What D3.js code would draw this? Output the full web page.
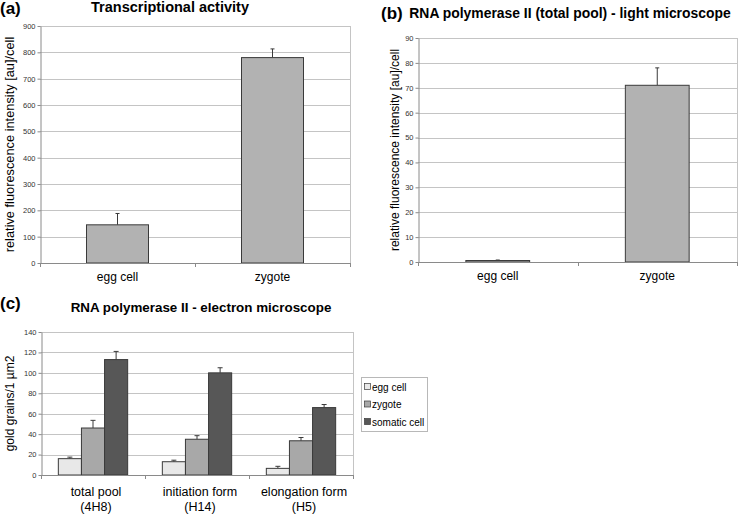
<!DOCTYPE html>
<html>
<head>
<meta charset="utf-8">
<script src="https://cdn.jsdelivr.net/npm/d3@7"></script>
<style>
  html, body { margin: 0; padding: 0; background: #fff; }
  svg text { font-family: Arial, "Liberation Sans", sans-serif; }
</style>
</head>
<body>
<svg id="chart" width="738" height="514"></svg>
<script>
// ---- data ----
const catsAB = ["egg cell", "zygote"];
const valuesA = [145, 780];
const errorsA = [43, 33];
const ticksA = [0, 100, 200, 300, 400, 500, 600, 700, 800, 900];

const valuesB = [0.6, 71];
const errorsB = [0.2, 7];
const ticksB = [0, 10, 20, 30, 40, 50, 60, 70, 80, 90];

const groupsC = ["total pool (4H8)", "initiation form (H14)", "elongation form (H5)"];
const groupLine1C = ["total pool", "initiation form", "elongation form"];
const groupLine2C = ["(4H8)", "(H14)", "(H5)"];
const seriesC = ["egg cell", "zygote", "somatic cell"];
const eggCellC = [16, 13, 6.5];
const eggCellErrC = [1.5, 1.5, 2];
const zygoteC = [46, 35, 33.5];
const zygoteErrC = [7.5, 3.5, 3.2];
const somaticC = [113, 100, 66];
const somaticErrC = [8, 5, 3];
const ticksC = [0, 20, 40, 60, 80, 100, 120, 140];

// ---- styles ----
const gridColor = "#c4c4c4";
const axisColor = "#8a8a8a";
const barStroke = "#3a3a3a";
const singleFill = "#b2b2b2";
const seriesFill = { "egg cell": "#e8e8e8", "zygote": "#a8a8a8", "somatic cell": "#575757" };

const svg = d3.select("#chart");

function frame(g, x0, x1, y, ticks, fmtSize) {
  g.selectAll("line.grid").data(ticks.filter(t => t !== 0)).enter().append("line")
    .attr("x1", x0).attr("x2", x1)
    .attr("y1", d => Math.round(y(d)) + 0.5).attr("y2", d => Math.round(y(d)) + 0.5)
    .attr("stroke", gridColor).attr("stroke-width", 1);
  g.append("line").attr("x1", x1 + 0.5).attr("x2", x1 + 0.5)
    .attr("y1", y(ticks[ticks.length - 1])).attr("y2", y(0))
    .attr("stroke", gridColor);
  const ax = d3.axisLeft(y).tickValues(ticks).tickSize(3).tickSizeOuter(0).tickPadding(2);
  const ag = g.append("g").attr("transform", `translate(${Math.round(x0) + 0.5},0)`).call(ax);
  ag.select(".domain").attr("stroke", axisColor);
  ag.selectAll(".tick line").attr("stroke", axisColor);
  ag.selectAll(".tick text").attr("fill", "#333").style("font-size", fmtSize + "px")
    .style("font-family", "Arial, 'Liberation Sans', sans-serif");
}

function bottomAxis(g, x, y0) {
  const r = x.range();
  g.append("line").attr("x1", r[0]).attr("x2", r[1])
    .attr("y1", Math.round(y0) + 0.5).attr("y2", Math.round(y0) + 0.5)
    .attr("stroke", axisColor);
  const bounds = x.domain().map(d => x(d)).concat([r[1]]);
  g.selectAll("line.btick").data(bounds).enter().append("line")
    .attr("x1", d => Math.round(d) + 0.5).attr("x2", d => Math.round(d) + 0.5)
    .attr("y1", y0).attr("y2", y0 + 4).attr("stroke", axisColor);
}

function errorBar(g, cx, yTop, yErr, cap) {
  g.append("line").attr("x1", cx).attr("x2", cx).attr("y1", yTop).attr("y2", yErr)
    .attr("stroke", barStroke).attr("stroke-width", 1);
  g.append("line").attr("x1", cx - cap).attr("x2", cx + cap).attr("y1", yErr).attr("y2", yErr)
    .attr("stroke", barStroke).attr("stroke-width", 1);
}

function singlePanel(opts) {
  const g = svg.append("g");
  const x = d3.scaleBand().domain(catsAB).range([opts.x0, opts.x1]).padding(0);
  const y = d3.scaleLinear().domain([0, opts.max]).range([opts.y0, opts.y1]);
  frame(g, opts.x0, opts.x1, y, opts.ticks, 7.5);
  const bw = x.bandwidth() / 2.5;
  catsAB.forEach((c, i) => {
    const cx = x(c) + x.bandwidth() / 2;
    const top = y(opts.values[i]);
    errorBar(g, cx, top, y(opts.values[i] + opts.errors[i]), 2);
    g.append("rect").attr("x", cx - bw / 2).attr("y", top)
      .attr("width", bw).attr("height", Math.max(0.5, y(0) - top))
      .attr("fill", singleFill).attr("stroke", barStroke).attr("stroke-width", 1);
  });
  bottomAxis(g, x, opts.y0);
  g.selectAll("text.cat").data(catsAB).enter().append("text")
    .attr("x", d => x(d) + x.bandwidth() / 2).attr("y", opts.y0 + 18)
    .attr("text-anchor", "middle").style("font-size", "12px").text(d => d);
  g.append("text")
    .attr("transform", `translate(${opts.ylabX},${(opts.y0 + opts.y1) / 2}) rotate(-90)`)
    .attr("text-anchor", "middle").style("font-size", opts.ylabSize + "px")
    .text("relative fluorescence intensity [au]/cell");
  g.append("text").attr("x", opts.titleX).attr("y", opts.titleY)
    .attr("text-anchor", "middle").style("font-size", opts.titleSize + "px").style("font-weight", "bold")
    .text(opts.title);
  g.append("text").attr("x", opts.tagX).attr("y", opts.tagY)
    .style("font-size", "17px").style("font-weight", "bold").text(opts.tag);
}

singlePanel({
  x0: 40, x1: 350, y0: 263, y1: 26, max: 900, ticks: ticksA,
  values: valuesA, errors: errorsA,
  ylabX: 14, ylabSize: 12.8,
  title: "Transcriptional activity", titleX: 170, titleY: 12, titleSize: 14.5,
  tag: "(a)", tagX: 0, tagY: 14
});

singlePanel({
  x0: 418, x1: 737, y0: 262, y1: 38, max: 90, ticks: ticksB,
  values: valuesB, errors: errorsB,
  ylabX: 399, ylabSize: 12,
  title: "RNA polymerase II (total pool) - light microscope", titleX: 570, titleY: 18, titleSize: 13.9,
  tag: "(b)", tagX: 381, tagY: 19
});

// ---- panel (c) ----
(function () {
  const g = svg.append("g");
  const x0 = 41, x1 = 353, yb = 475, yt = 332;
  const x = d3.scaleBand().domain(groupsC).range([x0, x1]).padding(0);
  const y = d3.scaleLinear().domain([0, 140]).range([yb, yt]);
  frame(g, x0, x1, y, ticksC, 7.5);
  const bw = x.bandwidth() / 4.5;
  const xs = d3.scaleBand().domain(seriesC)
    .range([x.bandwidth() / 2 - 1.5 * bw, x.bandwidth() / 2 + 1.5 * bw]).padding(0);
  const vals = { "egg cell": eggCellC, "zygote": zygoteC, "somatic cell": somaticC };
  const errs = { "egg cell": eggCellErrC, "zygote": zygoteErrC, "somatic cell": somaticErrC };
  groupsC.forEach((grp, gi) => {
    seriesC.forEach(s => {
      const bx = x(grp) + xs(s);
      const top = y(vals[s][gi]);
      errorBar(g, bx + bw / 2, top, y(vals[s][gi] + errs[s][gi]), 2.5);
      g.append("rect").attr("x", bx).attr("y", top).attr("width", bw).attr("height", y(0) - top)
        .attr("fill", seriesFill[s]).attr("stroke", barStroke).attr("stroke-width", 1);
    });
  });
  bottomAxis(g, x, yb);
  groupsC.forEach((grp, gi) => {
    const cx = x(grp) + x.bandwidth() / 2;
    g.append("text").attr("x", cx + 3).attr("y", yb + 21).attr("text-anchor", "middle")
      .style("font-size", "12.5px").text(groupLine1C[gi]);
    g.append("text").attr("x", cx + 3).attr("y", yb + 36).attr("text-anchor", "middle")
      .style("font-size", "12.5px").text(groupLine2C[gi]);
  });
  g.append("text").attr("transform", `translate(14,${(yb + yt) / 2}) rotate(-90)`)
    .attr("text-anchor", "middle").style("font-size", "12px").text("gold grains/1 µm2");
  g.append("text").attr("x", 201).attr("y", 312).attr("text-anchor", "middle")
    .style("font-size", "13.4px").style("font-weight", "bold")
    .text("RNA polymerase II - electron microscope");
  g.append("text").attr("x", 0).attr("y", 309)
    .style("font-size", "17px").style("font-weight", "bold").text("(c)");

  const lg = g.append("g").attr("transform", "translate(361,377)");
  lg.append("rect").attr("x", 0.5).attr("y", 0.5).attr("width", 66).attr("height", 54)
    .attr("fill", "#fff").attr("stroke", "#b8b8b8");
  seriesC.forEach((s, i) => {
    const yy = 10 + i * 17.5;
    lg.append("rect").attr("x", 3.5).attr("y", yy - 3.5).attr("width", 6).attr("height", 6)
      .attr("fill", seriesFill[s]).attr("stroke", barStroke).attr("stroke-width", 0.7);
    lg.append("text").attr("x", 11).attr("y", yy + 3.5).style("font-size", "10px").text(s);
  });
})();
</script>
</body>
</html>
